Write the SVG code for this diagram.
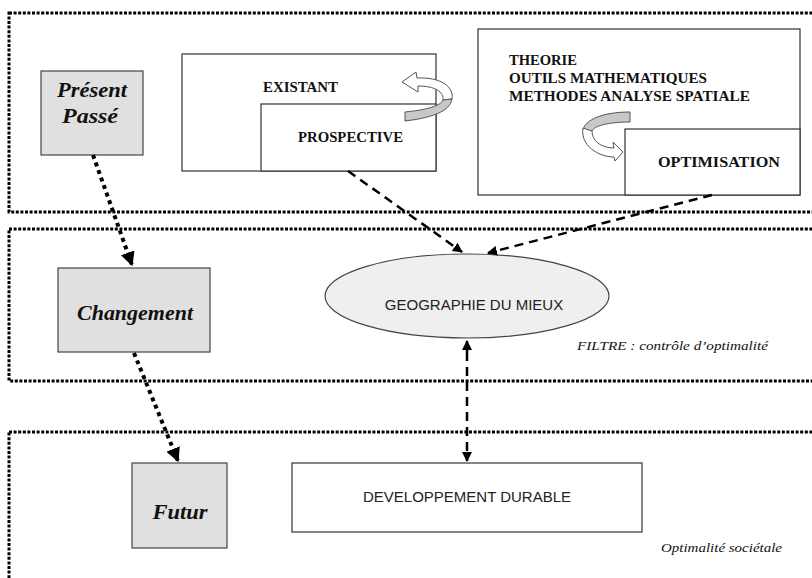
<svg xmlns="http://www.w3.org/2000/svg" width="812" height="578" viewBox="0 0 812 578">
<style>
.zone{fill:none;stroke:#000;stroke-width:3;stroke-dasharray:3 1.6}
.gbox{fill:#e0e0e0;stroke:#444;stroke-width:1.2}
.wbox{fill:#fff;stroke:#333;stroke-width:1.2}
.ser{font-family:"Liberation Serif","Times New Roman",serif;font-weight:bold;font-size:14px;fill:#111}
.big{font-family:"Liberation Serif","Times New Roman",serif;font-weight:bold;font-style:italic;font-size:20px;fill:#111}
.san{font-family:"Liberation Sans",Arial,sans-serif;font-size:15px;fill:#222}
.it{font-family:"Liberation Serif","Times New Roman",serif;font-style:italic;font-size:13px;fill:#111}
.dot{fill:none;stroke:#000;stroke-width:4;stroke-dasharray:4 4}
.dash{fill:none;stroke:#000;stroke-width:2.5;stroke-dasharray:9 6}
</style>
<defs>
<marker id="ah" viewBox="0 0 10 10" refX="9" refY="5" markerWidth="3.6" markerHeight="3.6" orient="auto" markerUnits="strokeWidth"><path d="M0,0 L10,5 L0,10 Z" fill="#000"/></marker>
<marker id="ad" viewBox="0 0 10 10" refX="9" refY="5" markerWidth="4" markerHeight="4" orient="auto" markerUnits="strokeWidth"><path d="M0,0 L10,5 L0,10 Z" fill="#000"/></marker>
</defs>

<g id="zones">
<rect class="zone" x="9" y="13" width="830" height="199"/>
<rect class="zone" x="9" y="229" width="830" height="152"/>
<rect class="zone" x="9" y="432" width="830" height="170"/>
</g>

<g id="present">
<rect class="gbox" x="41" y="71" width="102" height="84"/>
<text class="big" x="92" y="97" text-anchor="middle" textLength="70" lengthAdjust="spacingAndGlyphs">Présent</text>
<text class="big" x="90" y="123" text-anchor="middle" textLength="56" lengthAdjust="spacingAndGlyphs">Passé</text>
</g>

<g id="existant">
<rect class="wbox" x="182" y="54" width="254" height="117"/>
<text class="ser" x="263" y="92" textLength="75" lengthAdjust="spacingAndGlyphs">EXISTANT</text>
</g>
<g id="prospective">
<rect class="wbox" x="261" y="104" width="175" height="67"/>
<text class="ser" x="298" y="142" textLength="105" lengthAdjust="spacingAndGlyphs">PROSPECTIVE</text>
</g>
<g id="curl1">
<path d="M402,82 L416,72 L417,78 C440,77 454,86 452,99 L443,100 C444,92 435,86 418,86 L418,92 Z" fill="#fff" stroke="#555" stroke-width="1"/>
<path d="M452,99 C450,112 430,118 405,121 L405,112 C425,110 441,106 443,100 Z" fill="#c8c8c8" stroke="#555" stroke-width="1"/>
</g>

<g id="theorie">
<rect class="wbox" x="478" y="29" width="322" height="166"/>
<text class="ser" x="509" y="65" textLength="68" lengthAdjust="spacingAndGlyphs">THEORIE</text>
<text class="ser" x="509" y="83" textLength="198" lengthAdjust="spacingAndGlyphs">OUTILS MATHEMATIQUES</text>
<text class="ser" x="509" y="101" textLength="241" lengthAdjust="spacingAndGlyphs">METHODES  ANALYSE SPATIALE</text>
</g>
<g id="optimisation">
<rect class="wbox" x="625" y="129" width="175" height="66"/>
<text class="ser" x="658" y="167" textLength="122" lengthAdjust="spacingAndGlyphs">OPTIMISATION</text>
</g>
<g id="curl2">
<path d="M630,112 C602,112 585,120 583,130 L592,131 C594,126 608,122 630,122 Z" fill="#c8c8c8" stroke="#555" stroke-width="1"/>
<path d="M583,128 C580,145 598,157 614,157 L615,161 L623,152 L613,142 L614,148 C600,148 592,140 592,131 Z" fill="#fff" stroke="#555" stroke-width="1"/>
</g>

<g id="changement">
<rect class="gbox" x="58" y="268" width="152" height="84"/>
<text class="big" x="135" y="320" text-anchor="middle" textLength="116" lengthAdjust="spacingAndGlyphs">Changement</text>
</g>

<g id="geographie">
<ellipse cx="467" cy="296" rx="142" ry="42" fill="#efefef" stroke="#444" stroke-width="1.2"/>
<text class="san" x="474" y="310" text-anchor="middle">GEOGRAPHIE DU MIEUX</text>
</g>
<g id="filtre">
<text class="it" x="577" y="350" textLength="191" lengthAdjust="spacingAndGlyphs">FILTRE : contrôle d’optimalité</text>
</g>

<g id="futur">
<rect class="gbox" x="132" y="463" width="95" height="85"/>
<text class="big" x="180" y="519" text-anchor="middle" textLength="55" lengthAdjust="spacingAndGlyphs">Futur</text>
</g>
<g id="developpement">
<rect class="wbox" x="292" y="463" width="350" height="69"/>
<text class="san" x="467" y="502" text-anchor="middle">DEVELOPPEMENT DURABLE</text>
</g>
<g id="optimalite">
<text class="it" x="661" y="552" textLength="121" lengthAdjust="spacingAndGlyphs">Optimalité sociétale</text>
</g>

<g id="connectors">
<line class="dot" x1="93" y1="155" x2="132" y2="265" marker-end="url(#ah)"/>
<line class="dot" x1="134" y1="353" x2="178" y2="461" marker-end="url(#ah)"/>
<line class="dash" x1="348" y1="171" x2="462" y2="252" marker-end="url(#ad)"/>
<line class="dash" x1="712" y1="195" x2="488" y2="253" marker-end="url(#ad)"/>
<line class="dash" x1="467" y1="352" x2="467" y2="461" marker-end="url(#ad)"/>
<line x1="467" y1="352" x2="467" y2="341" stroke="#000" stroke-width="2.5" marker-end="url(#ad)"/>
</g>
</svg>
